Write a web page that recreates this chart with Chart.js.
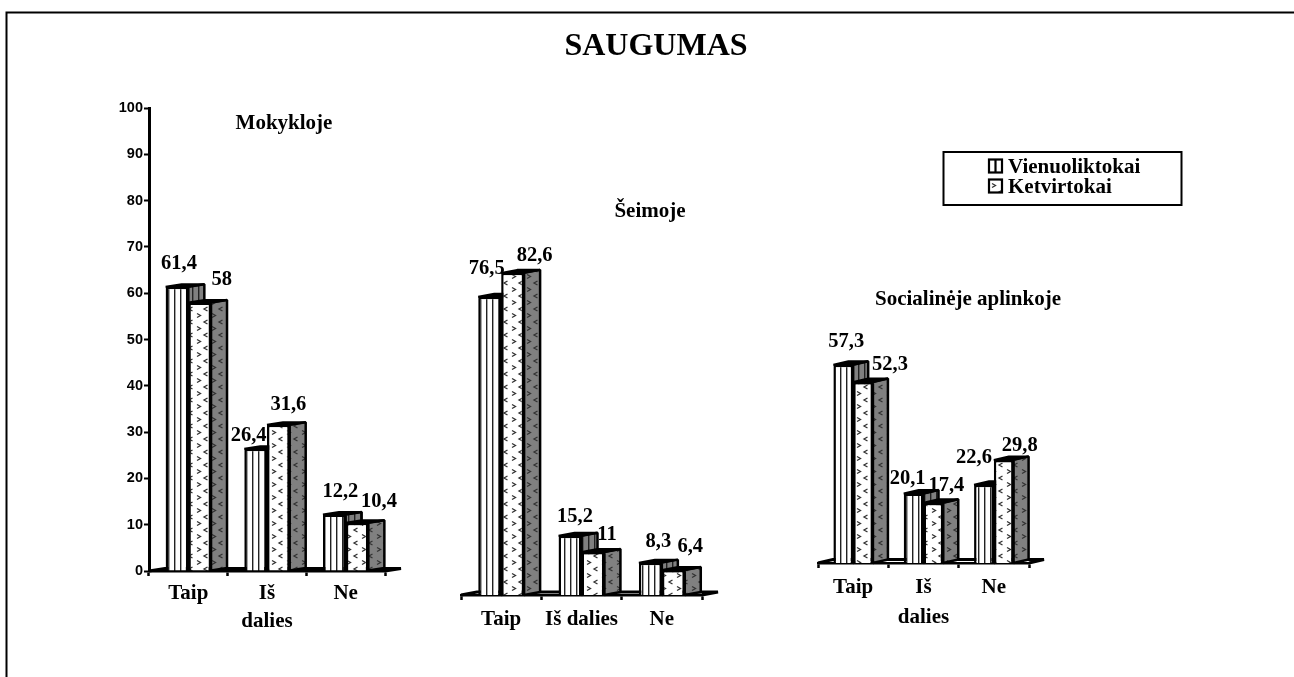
<!DOCTYPE html>
<html lang="lt">
<head>
<meta charset="utf-8">
<title>SAUGUMAS</title>
<script src="https://cdn.jsdelivr.net/npm/chart.js@4/dist/chart.umd.min.js"></script>
<style>
html,body{margin:0;padding:0;background:#fff;overflow:hidden}
#stage{position:relative;width:1294px;height:677px}
canvas{position:absolute;left:0;top:0}
</style>
</head>
<body>
<div id="stage">
<canvas id="c1" width="1294" height="677"></canvas>
<canvas id="c2" width="1294" height="677"></canvas>
<canvas id="c3" width="1294" height="677"></canvas>
</div>
<script>
// ---- data ----
const mainTitle = "SAUGUMAS";
const seriesNames = ["Vienuoliktokai", "Ketvirtokai"];
const categoriesShort = ["Taip", "Iš dalies", "Ne"];
const categoriesWrapped = ["Taip", ["Iš", "dalies"], "Ne"];
const yTicks = [0,10,20,30,40,50,60,70,80,90,100];

const mokyklojeVienuoliktokai = [61.4, 26.4, 12.2];
const mokyklojeKetvirtokai    = [58, 31.6, 10.4];
const seimojeVienuoliktokai   = [76.5, 15.2, 8.3];
const seimojeKetvirtokai      = [82.6, 11, 6.4];
const aplinkojeVienuoliktokai = [57.3, 20.1, 22.6];
const aplinkojeKetvirtokai    = [52.3, 17.4, 29.8];

// ---- layout (pixels of the page, not data) ----
const panels = [
  {id:"c1", title:"Mokykloje", titleX:284, titleY:129, cats:categoriesWrapped,
   a:mokyklojeVienuoliktokai, b:mokyklojeKetvirtokai, left:149, right:385, top:108, base:571,
   dx:16, dy:2.5, cp:0.577, showY:true, tickPad:4, lh:1.33,
   off:[[[2,-18],[22,-17]],[[-7,-8],[10,-15]],[[6,-18],[22,-16]]]},
  {id:"c2", title:"Šeimoje", titleX:650, titleY:217, cats:categoriesShort,
   a:seimojeVienuoliktokai, b:seimojeKetvirtokai, left:461, right:702, top:205, base:595,
   dx:16, dy:3, cp:0.571, showY:false, tickPad:5, lh:1.4,
   off:[[[-3,-23],[22,-12]],[[5,-14],[14,-12]],[[8,-16],[17,-18]]]},
  {id:"c3", title:"Socialinėje aplinkoje", titleX:968, titleY:305, cats:categoriesWrapped,
   a:aplinkojeVienuoliktokai, b:aplinkojeKetvirtokai, left:818, right:1029, top:217, base:563,
   dx:15, dy:3.5, cp:0.562, showY:false, tickPad:5, lh:1.4,
   off:[[[3,-18],[27,-12]],[[-6,-9],[13,-12]],[[-10,-22],[16,-9]]]}
];

const SERIF = '"Liberation Serif","Times New Roman",serif';
const SANS  = '"Liberation Sans",Arial,sans-serif';

// ---- fill patterns ----
function makeStripes(bg){
  const c=document.createElement("canvas"); c.width=6; c.height=6;
  const g=c.getContext("2d"); g.fillStyle=bg; g.fillRect(0,0,6,6);
  g.fillStyle="#222"; g.fillRect(0,0,1.4,6);
  return g.createPattern(c,"repeat");
}
function makeChevrons(bg){
  const c=document.createElement("canvas"); c.width=15; c.height=13;
  const g=c.getContext("2d"); g.fillStyle=bg; g.fillRect(0,0,15,13);
  g.strokeStyle="#333"; g.lineWidth=1.3;
  g.beginPath(); g.moveTo(2,1.5); g.lineTo(5.5,3.5); g.lineTo(2,5.5); g.stroke();
  g.beginPath(); g.moveTo(12.5,8); g.lineTo(9,10); g.lineTo(12.5,12); g.stroke();
  return g.createPattern(c,"repeat");
}
const stripeFront = makeStripes("#ffffff");
const stripeSide  = makeStripes("#808080");
const chevFront   = makeChevrons("#ffffff");
const chevSide    = makeChevrons("#808080");
const sideFills   = [stripeSide, chevSide];

function polygon(ctx, pts, fill, lw){
  ctx.beginPath();
  pts.forEach((p,i)=> i?ctx.lineTo(p[0],p[1]):ctx.moveTo(p[0],p[1]));
  ctx.closePath();
  if(fill){ctx.fillStyle=fill;ctx.fill();}
  ctx.lineWidth=lw; ctx.strokeStyle="#000"; ctx.lineJoin="bevel"; ctx.stroke();
}

const depthPlugin = {
  id:"depth",
  beforeDatasetsDraw(chart,args,opts){
    const ctx=chart.ctx, p=opts.panel, ca=chart.chartArea;
    ctx.save();
    // floor edge at the back
    ctx.strokeStyle="#000"; ctx.lineWidth=3; ctx.lineJoin="bevel";
    ctx.beginPath();
    ctx.moveTo(ca.left,ca.bottom);
    ctx.lineTo(ca.left+p.dx,ca.bottom-p.dy);
    ctx.lineTo(ca.right+p.dx,ca.bottom-p.dy);
    ctx.lineTo(ca.right,ca.bottom);
    ctx.stroke();
    // side and top faces of each bar
    [0,1].forEach(ds=>{
      chart.getDatasetMeta(ds).data.forEach(el=>{
        const {x,y,base,width}=el.getProps(["x","y","base","width"],true);
        const l=x-width/2, r=x+width/2;
        polygon(ctx,[[r,y],[r+p.dx,y-p.dy],[r+p.dx,base-p.dy],[r,base]],sideFills[ds],2.5);
        polygon(ctx,[[l,y],[l+p.dx,y-p.dy],[r+p.dx,y-p.dy],[r,y]],"#000",2);
      });
    });
    ctx.restore();
  },
  afterDatasetsDraw(chart,args,opts){
    const ctx=chart.ctx, p=opts.panel;
    ctx.save();
    ctx.fillStyle="#000";
    ctx.textAlign="center"; ctx.textBaseline="alphabetic";
    ctx.font="bold 20.5px "+SERIF;
    [0,1].forEach(ds=>{
      const vals=chart.data.datasets[ds].data;
      chart.getDatasetMeta(ds).data.forEach((el,i)=>{
        const {x,y}=el.getProps(["x","y"],true);
        const o=p.off[i][ds];
        ctx.fillText(String(vals[i]).replace(".",","),x+o[0],y+o[1]);
      });
    });
    ctx.font="bold 21px "+SERIF;
    ctx.fillText(p.title,p.titleX,p.titleY);
    ctx.restore();
  }
};

// page furniture: frame, main title (first panel), legend (last panel)
const framePlugin = {
  id:"frame",
  afterDraw(chart,args,opts){
    const ctx=chart.ctx;
    ctx.save();
    ctx.fillStyle="#000"; ctx.strokeStyle="#000";
    if(opts.frame){
      ctx.lineWidth=2;
      ctx.beginPath(); ctx.moveTo(6.5,677); ctx.lineTo(6.5,12.5); ctx.lineTo(1294,12.5); ctx.stroke();
      ctx.font="bold 32px "+SERIF; ctx.textAlign="center"; ctx.textBaseline="alphabetic";
      ctx.fillText(mainTitle,656,55);
    }
    if(opts.legend){
      ctx.lineWidth=2;
      ctx.strokeRect(943.5,152,238,53);
      const swatch=(y,fill)=>{ctx.fillStyle=fill;ctx.fillRect(989,y,13,13);ctx.strokeRect(989,y,13,13);};
      ctx.lineWidth=2.2;
      swatch(159.5,"#fff");
      ctx.beginPath();ctx.moveTo(995.5,159.5);ctx.lineTo(995.5,172.5);ctx.stroke();
      swatch(179.5,chevFront);
      ctx.fillStyle="#000";
      ctx.font="bold 21px "+SERIF; ctx.textAlign="left"; ctx.textBaseline="alphabetic";
      ctx.fillText(seriesNames[0],1008,173);
      ctx.fillText(seriesNames[1],1008,193);
    }
    ctx.restore();
  }
};

panels.forEach((p,idx)=>{
  new Chart(document.getElementById(p.id),{
    type:"bar",
    data:{
      labels:p.cats,
      datasets:[
        {label:seriesNames[0],data:p.a,backgroundColor:stripeFront,borderColor:"#000",borderWidth:2.5,borderSkipped:"bottom"},
        {label:seriesNames[1],data:p.b,backgroundColor:chevFront,borderColor:"#000",borderWidth:2.5,borderSkipped:"bottom"}
      ]
    },
    options:{
      responsive:false, animation:false, devicePixelRatio:1,
      barPercentage:1, categoryPercentage:p.cp,
      layout:{padding:{left:p.showY?0:p.left,right:1294-p.right,top:p.top,bottom:0}},
      plugins:{
        legend:{display:false}, title:{display:false}, tooltip:{enabled:false},
        depth:{panel:p},
        frame:{frame:idx===0,legend:idx===2}
      },
      scales:{
        x:{
          grid:{drawOnChartArea:false,drawTicks:true,tickLength:5,tickColor:"#000",tickWidth:2.5,offset:true},
          border:{display:true,color:"#000",width:2.5},
          ticks:{color:"#000",autoSkip:false,maxRotation:0,minRotation:0,padding:p.tickPad,
                 font:{family:SERIF,weight:"bold",size:21,lineHeight:p.lh}},
          afterFit(s){s.height=677-p.base;}
        },
        y:{
          display:p.showY, min:0, max:100,
          afterBuildTicks(s){s.ticks=yTicks.map(v=>({value:v}));},
          grid:{drawOnChartArea:false,drawTicks:true,tickLength:5,tickColor:"#000",tickWidth:2},
          border:{display:true,color:"#000",width:3},
          ticks:{color:"#000",padding:1,font:{family:SANS,weight:"bold",size:14.5}},
          afterFit(s){if(p.showY)s.width=p.left;}
        }
      }
    },
    plugins:[depthPlugin,framePlugin]
  });
});
</script>
</body>
</html>
